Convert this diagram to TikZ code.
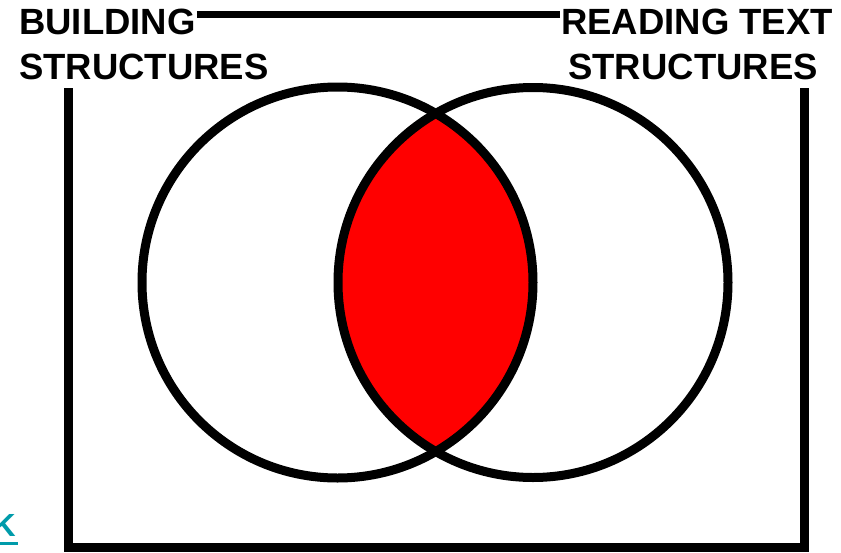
\documentclass[tikz,border=0pt]{standalone}
\usepackage{fontspec}
\setmainfont{Liberation Sans}
\definecolor{linkteal}{RGB}{0,155,170}
\tikzset{
  frame/.style={line width=9pt, line join=miter},
  ring/.style={line width=9pt},
  label/.style={font=\fontsize{36.5}{40}\selectfont\bfseries, inner sep=1pt}
}
\begin{document}
\begin{tikzpicture}[x=1pt,y=-1pt]
  \useasboundingbox (0,0) rectangle (841,552);
  % labels
  \node[label, anchor=base west] (bld1) at (18,34) {BUILDING};
  \node[label, anchor=base west] (bld2) at (18,79) {STRUCTURES};
  \node[label, anchor=base] (rd1) at (697,34) {READING TEXT};
  \node[label, anchor=base] (rd2) at (693,79) {STRUCTURES};
  \coordinate (top) at (0,14.5);
  \coordinate (tl) at (68,88);
  \coordinate (tr) at (804,88);
  \coordinate (bl) at (68,547);
  \coordinate (br) at (804,547);
  % frame
  \draw[frame, line width=7pt] (bld1.east |- top) -- (rd1.west |- top);
  \draw[frame] (tl) -- (bl) -- (br) -- (tr);
  % overlap
  \begin{scope}
    \clip (337.5,282.5) circle (195.5);
    \fill[red] (533,282.5) circle (195);
  \end{scope}
  \draw[ring] (337.5,282.5) circle (195.5);
  \draw[ring] (533,282.5) circle (195);
  % link, cut off at the left edge
  \node[anchor=base east, inner sep=0pt, text=linkteal, font=\fontsize{32}{36}\selectfont\bfseries] (back) at (16,536) {K};
  \draw[linkteal, line width=3.5pt] ([yshift=-7.5pt]back.base west) -- ([xshift=2pt,yshift=-7.5pt]back.base east);
\end{tikzpicture}
\end{document}
